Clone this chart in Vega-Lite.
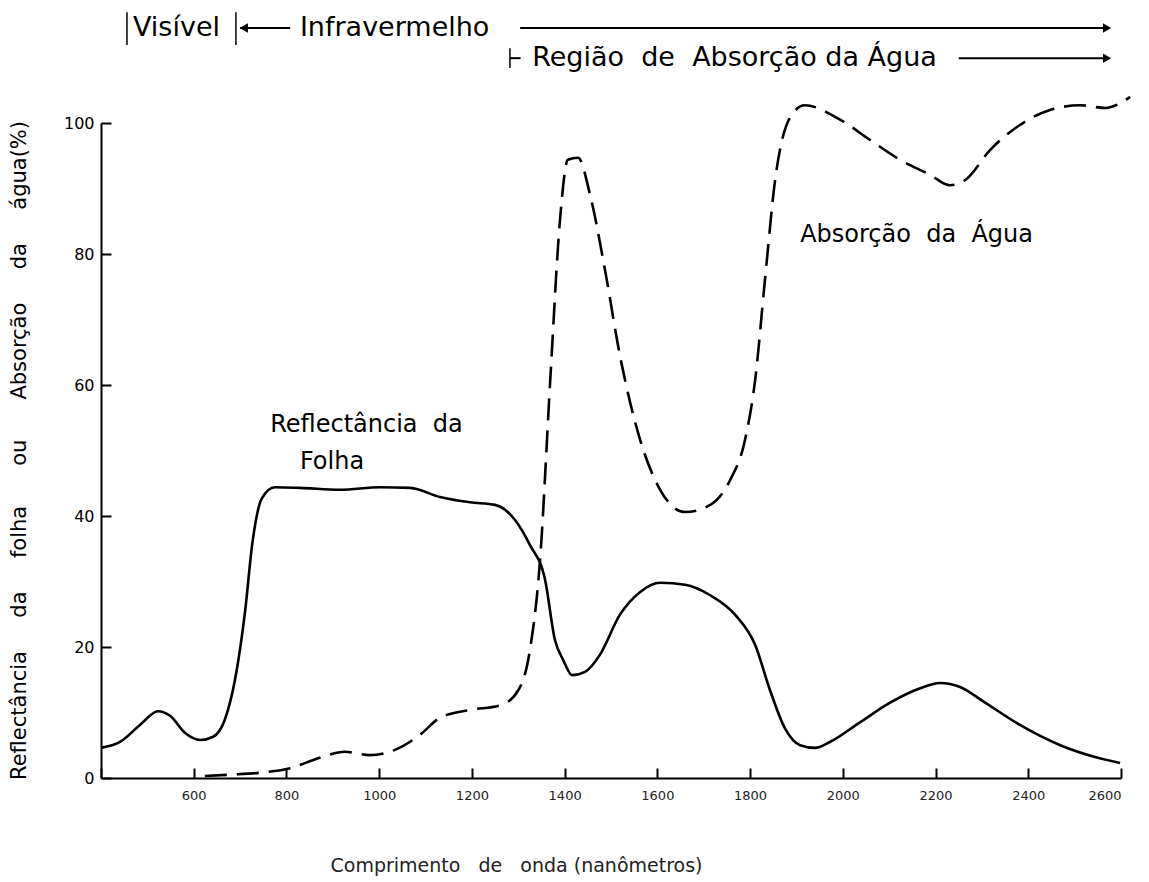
{
  "$schema": "https://vega.github.io/schema/vega-lite/v6.json",
  "autosize": "none",
  "width": 1020,
  "height": 655,
  "padding": {"left": 101, "top": 123, "right": 28, "bottom": 104},
  "background": "white",
  "config": {
    "view": {"stroke": null},
    "font": "DejaVu Sans",
    "axis": {"grid": false, "domainColor": "black", "domainWidth": 2, "tickColor": "black", "tickWidth": 2, "labelColor": "black", "titleColor": "black", "titleFontWeight": "normal"}
  },
  "resolve": {"axis": {"x": "independent", "y": "independent"}},
  "datasets": {
    "refl": [
      {"nm": 400, "v": 4.6}, {"nm": 441, "v": 5.5}, {"nm": 484, "v": 8.1}, {"nm": 523, "v": 10.2}, {"nm": 549, "v": 9.5},
      {"nm": 581, "v": 6.9}, {"nm": 614, "v": 5.8}, {"nm": 642, "v": 6.3}, {"nm": 667, "v": 8.9}, {"nm": 689, "v": 15.0},
      {"nm": 711, "v": 25.6}, {"nm": 726, "v": 35.6}, {"nm": 747, "v": 42.7}, {"nm": 775, "v": 44.4}, {"nm": 829, "v": 44.3},
      {"nm": 916, "v": 44.0}, {"nm": 1002, "v": 44.4}, {"nm": 1067, "v": 44.3}, {"nm": 1131, "v": 42.9}, {"nm": 1196, "v": 42.1},
      {"nm": 1250, "v": 41.7}, {"nm": 1293, "v": 39.4}, {"nm": 1325, "v": 35.6}, {"nm": 1358, "v": 30.2}, {"nm": 1379, "v": 21.1},
      {"nm": 1397, "v": 18.0}, {"nm": 1416, "v": 15.7}, {"nm": 1444, "v": 16.2}, {"nm": 1476, "v": 18.8}, {"nm": 1519, "v": 24.9},
      {"nm": 1563, "v": 28.4}, {"nm": 1606, "v": 29.8}, {"nm": 1660, "v": 29.5}, {"nm": 1714, "v": 27.9}, {"nm": 1768, "v": 24.9},
      {"nm": 1811, "v": 20.3}, {"nm": 1843, "v": 13.4}, {"nm": 1875, "v": 7.6}, {"nm": 1908, "v": 5.0}, {"nm": 1940, "v": 4.6},
      {"nm": 1972, "v": 5.5}, {"nm": 2037, "v": 8.5}, {"nm": 2102, "v": 11.5}, {"nm": 2167, "v": 13.7}, {"nm": 2210, "v": 14.5},
      {"nm": 2253, "v": 13.9}, {"nm": 2307, "v": 11.5}, {"nm": 2382, "v": 8.1}, {"nm": 2469, "v": 5.0}, {"nm": 2544, "v": 3.2},
      {"nm": 2598, "v": 2.3}
    ],
    "water": [
      {"nm": 624, "v": 0.3}, {"nm": 678, "v": 0.5}, {"nm": 743, "v": 0.8}, {"nm": 808, "v": 1.5}, {"nm": 872, "v": 3.1},
      {"nm": 926, "v": 4.0}, {"nm": 980, "v": 3.5}, {"nm": 1034, "v": 4.3}, {"nm": 1088, "v": 6.6}, {"nm": 1131, "v": 9.2},
      {"nm": 1196, "v": 10.4}, {"nm": 1261, "v": 11.1}, {"nm": 1300, "v": 13.4}, {"nm": 1325, "v": 19.5}, {"nm": 1347, "v": 33.3},
      {"nm": 1369, "v": 60.8}, {"nm": 1390, "v": 85.2}, {"nm": 1407, "v": 94.4}, {"nm": 1429, "v": 94.7}, {"nm": 1455, "v": 89.0},
      {"nm": 1487, "v": 77.6}, {"nm": 1519, "v": 64.6}, {"nm": 1563, "v": 51.6}, {"nm": 1606, "v": 44.0}, {"nm": 1660, "v": 40.6},
      {"nm": 1714, "v": 41.7}, {"nm": 1757, "v": 45.5}, {"nm": 1789, "v": 51.6}, {"nm": 1811, "v": 60.8}, {"nm": 1832, "v": 76.0},
      {"nm": 1854, "v": 91.3}, {"nm": 1886, "v": 100.8}, {"nm": 1918, "v": 102.7}, {"nm": 1994, "v": 100.5}, {"nm": 2059, "v": 97.4},
      {"nm": 2123, "v": 94.4}, {"nm": 2188, "v": 92.1}, {"nm": 2231, "v": 90.5}, {"nm": 2264, "v": 91.3}, {"nm": 2318, "v": 95.9},
      {"nm": 2382, "v": 99.7}, {"nm": 2447, "v": 102.0}, {"nm": 2512, "v": 102.7}, {"nm": 2566, "v": 102.3}, {"nm": 2620, "v": 104.0}
    ],
    "topLabels": [
      {"nm": 469, "v": 114.5, "t": "Visível"},
      {"nm": 829, "v": 114.5, "t": "Infravermelho"},
      {"nm": 1330, "v": 109.9, "t": "Região\u00a0\u00a0de\u00a0\u00a0Absorção\u00a0da\u00a0Água"}
    ],
    "curveLabels": [
      {"nm": 1908, "v": 82.9, "t": "Absorção\u00a0\u00a0da\u00a0\u00a0Água"},
      {"nm": 765, "v": 53.9, "t": "Reflectância\u00a0\u00a0da"},
      {"nm": 829, "v": 48.2, "t": "Folha"}
    ],
    "hlines": [
      {"nm": 700, "nm2": 808, "v": 114.5},
      {"nm": 1304, "nm2": 2565, "v": 114.5},
      {"nm": 1282, "nm2": 1305, "v": 109.9},
      {"nm": 2250, "nm2": 2565, "v": 109.9}
    ],
    "vbars": [
      {"nm": 456, "v": 111.9, "v2": 116.9},
      {"nm": 691, "v": 111.9, "v2": 116.9},
      {"nm": 1282, "v": 108.4, "v2": 111.4}
    ],
    "heads": [
      {"nm": 708, "v": 114.5, "dir": "left"},
      {"nm": 2570, "v": 114.5, "dir": "right"},
      {"nm": 2570, "v": 109.9, "dir": "right"}
    ]
  },
  "layer": [
    {"data": {"name": "refl"}, "mark": {"type": "line", "color": "black", "strokeWidth": 2.6, "interpolate": "monotone", "clip": false},
      "encoding": {
        "x": {"field": "nm", "type": "quantitative", "scale": {"domain": [400, 2600], "nice": false, "zero": false},
          "axis": {"values": [400, 600, 800, 1000, 1200, 1400, 1600, 1800, 2000, 2200, 2400, 2600],
            "labelExpr": "datum.value == 400 ? '' : datum.label", "format": "d", "ticks": false,
            "labelPadding": 11, "labelFontSize": 13, "labelColor": "#222",
            "title": "Comprimento\u00a0\u00a0\u00a0de\u00a0\u00a0\u00a0onda\u00a0(nanômetros)", "titleFontSize": 19, "titleAnchor": "start", "titleX": 229, "titleY": 78, "titleColor": "#222"}},
        "y": {"field": "v", "type": "quantitative", "scale": {"domain": [0, 100], "nice": false},
          "axis": {"values": [0, 20, 40, 60, 80, 100], "ticks": false, "labelPadding": 7, "labelFontSize": 16,
            "title": "Reflectância\u00a0\u00a0\u00a0\u00a0\u00a0da\u00a0\u00a0\u00a0\u00a0\u00a0folha\u00a0\u00a0\u00a0\u00a0\u00a0\u00a0ou\u00a0\u00a0\u00a0\u00a0\u00a0\u00a0Absorção\u00a0\u00a0\u00a0\u00a0\u00a0da\u00a0\u00a0\u00a0\u00a0\u00a0água(%)",
            "titleFontSize": 21, "titleX": -82, "titleY": 327, "titleAngle": -90, "titleAlign": "center", "titleBaseline": "middle"}}
      }},
    {"data": {"name": "water"}, "mark": {"type": "line", "color": "black", "strokeWidth": 2.6, "strokeDash": [22, 10], "interpolate": "monotone", "clip": false},
      "encoding": {
        "x": {"field": "nm", "type": "quantitative",
          "axis": {"orient": "top", "offset": -655, "values": [400, 600, 800, 1000, 1200, 1400, 1600, 1800, 2000, 2200, 2400, 2600],
            "labels": false, "domain": false, "tickSize": 10, "title": null}},
        "y": {"field": "v", "type": "quantitative",
          "axis": {"orient": "right", "offset": -1020, "values": [0, 20, 40, 60, 80, 100],
            "labels": false, "domain": false, "tickSize": 10, "title": null}}
      }},
    {"data": {"name": "topLabels"}, "mark": {"type": "text", "align": "left", "baseline": "middle", "fontSize": 27, "color": "black"},
      "encoding": {"x": {"field": "nm", "type": "quantitative", "axis": null}, "y": {"field": "v", "type": "quantitative", "axis": null}, "text": {"field": "t"}}},
    {"data": {"name": "curveLabels"}, "mark": {"type": "text", "align": "left", "baseline": "middle", "fontSize": 24, "color": "black"},
      "encoding": {"x": {"field": "nm", "type": "quantitative", "axis": null}, "y": {"field": "v", "type": "quantitative", "axis": null}, "text": {"field": "t"}}},
    {"data": {"name": "hlines"}, "mark": {"type": "rule", "color": "black", "strokeWidth": 2},
      "encoding": {"x": {"field": "nm", "type": "quantitative", "axis": null}, "x2": {"field": "nm2"}, "y": {"field": "v", "type": "quantitative", "axis": null}}},
    {"data": {"name": "vbars"}, "mark": {"type": "rule", "color": "black", "strokeWidth": 1.5},
      "encoding": {"x": {"field": "nm", "type": "quantitative", "axis": null}, "y": {"field": "v", "type": "quantitative", "axis": null}, "y2": {"field": "v2"}}},
    {"data": {"name": "heads"}, "mark": {"type": "point", "filled": true, "color": "black", "size": 90, "opacity": 1},
      "encoding": {"x": {"field": "nm", "type": "quantitative", "axis": null}, "y": {"field": "v", "type": "quantitative", "axis": null},
        "shape": {"field": "dir", "type": "nominal", "scale": {"domain": ["left", "right"], "range": ["triangle-left", "triangle-right"]}, "legend": null}}}
  ]
}
